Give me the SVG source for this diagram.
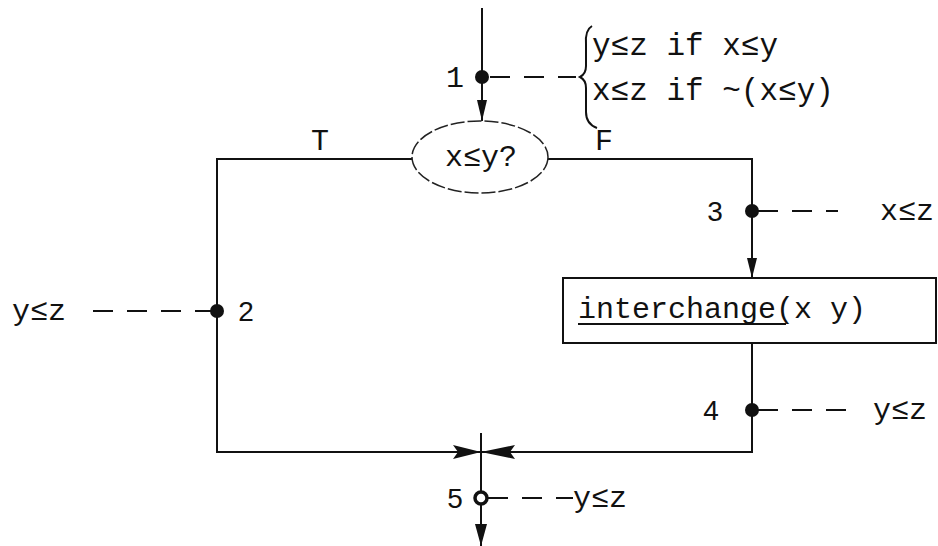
<svg xmlns="http://www.w3.org/2000/svg" width="938" height="546" viewBox="0 0 938 546">
<style>
.ln{stroke:#111;stroke-width:2;fill:none}
.dash{stroke:#111;stroke-width:2;fill:none;stroke-dasharray:20 14}
.mono{font-family:"Liberation Mono","DejaVu Sans Mono",monospace;fill:#111}
.num{font-family:"Liberation Sans","DejaVu Sans",sans-serif;fill:#111;font-size:28px}
.dot{fill:#111}
.ah{fill:#111}
</style>
<rect width="938" height="546" fill="#fff"/>
<g id="connectors">
  <line class="ln" x1="482" y1="8" x2="482" y2="121"/>
  <polygon class="ah" points="477,100 487,100 482,121"/>
  <polyline class="ln" points="412,159 217,159 217,452 481,452"/>
  <polyline class="ln" points="548,159 752,159 752,278"/>
  <polygon class="ah" points="747,258 757,258 752,278"/>
  <polyline class="ln" points="752,343 752,452 481,452"/>
  <line class="ln" x1="481" y1="433" x2="481" y2="546"/>
  <polygon class="ah" points="453,445 481,452 453,459 458,452"/>
  <polygon class="ah" points="515,445 481,452 515,459 510,452"/>
  <polygon class="ah" points="475,524 487,524 481,546"/>
  <text class="mono" x="320" y="150" font-size="30" text-anchor="middle">T</text>
  <text class="mono" x="604" y="150" font-size="30" text-anchor="middle">F</text>
</g>
<g id="node1">
  <circle class="dot" cx="482" cy="77" r="7"/>
  <text class="mono" x="455" y="87" font-size="30" text-anchor="middle">1</text>
  <line class="dash" x1="490" y1="77" x2="576" y2="77"/>
  <path class="ln" stroke-width="2.5" d="M592,26 Q585,30 586,44 L586,66 Q586,74 580,77 Q586,80 586,88 L586,112 Q586,124 597,128"/>
  <text class="mono" x="592" y="55" font-size="31">y≤z if x≤y</text>
  <text class="mono" x="592" y="100" font-size="31">x≤z if ~(x≤y)</text>
</g>
<g id="decision">
  <ellipse cx="480" cy="157" rx="68" ry="36" fill="none" stroke="#222" stroke-width="1.5" stroke-dasharray="14 3"/>
  <text class="mono" x="481" y="166" font-size="30" text-anchor="middle">x≤y?</text>
</g>
<g id="node2">
  <circle class="dot" cx="217" cy="311" r="7"/>
  <text class="num" x="246" y="321" text-anchor="middle">2</text>
  <line class="dash" x1="93" y1="311" x2="212" y2="311"/>
  <text class="mono" x="12" y="320" font-size="30">y≤z</text>
</g>
<g id="node3">
  <circle class="dot" cx="752" cy="211" r="7"/>
  <text class="num" x="715" y="221" text-anchor="middle">3</text>
  <line class="dash" x1="758" y1="211" x2="838" y2="211"/>
  <text class="mono" x="880" y="220" font-size="30">x≤z</text>
</g>
<g id="interchange">
  <rect x="563" y="278" width="373" height="65" fill="#fff" stroke="#111" stroke-width="2"/>
  <text class="mono" x="578" y="318" font-size="30">interchange(x y)</text>
  <line class="ln" x1="578" y1="324" x2="786" y2="324"/>
</g>
<g id="node4">
  <circle class="dot" cx="752" cy="410" r="7"/>
  <text class="num" x="711" y="420" text-anchor="middle">4</text>
  <line class="dash" x1="758" y1="410" x2="854" y2="410"/>
  <text class="mono" x="873" y="419" font-size="30">y≤z</text>
</g>
<g id="node5">
  <circle cx="481" cy="498" r="6" fill="#fff" stroke="#111" stroke-width="3.5"/>
  <text class="num" x="455" y="508" text-anchor="middle">5</text>
  <line class="dash" x1="488" y1="498" x2="573" y2="498"/>
  <text class="mono" x="573" y="507" font-size="30">y≤z</text>
</g>
</svg>
